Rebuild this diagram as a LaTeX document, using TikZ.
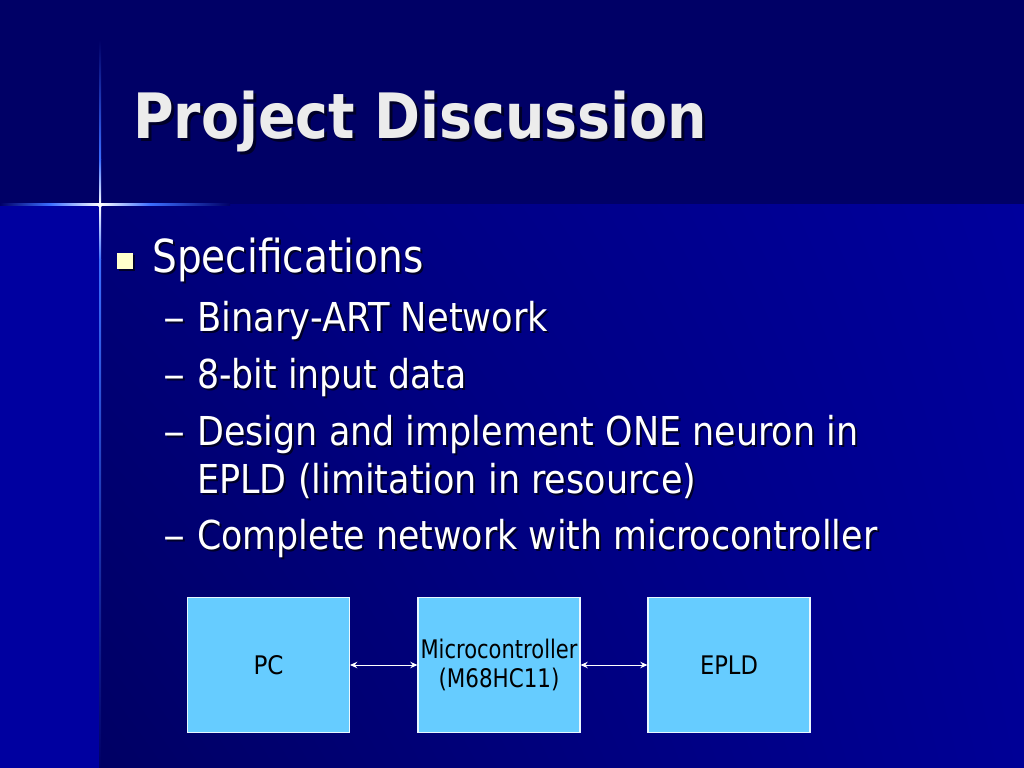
\documentclass[tikz,border=0pt]{standalone}
\usepackage{fontspec}
\setmainfont{DejaVu Sans}
\usetikzlibrary{arrows.meta,shadings}
\newlength\pxu \setlength\pxu{0.703125pt}
\newcommand\fw[2]{\resizebox{#1\pxu}{\height}{#2}}
\newcommand\shtx[3][2]{\makebox[0pt][l]{\hspace*{#1\pxu}\raisebox{-#1\pxu}{\color{shadowc}\fw{#2}{#3}}}\fw{#2}{#3}}
\definecolor{navy}{RGB}{0,0,102}
\definecolor{strip}{RGB}{0,0,160}
\definecolor{bgul}{RGB}{0,0,122}
\definecolor{bgur}{RGB}{0,0,156}
\definecolor{bgll}{RGB}{0,0,100}
\definecolor{bglr}{RGB}{0,0,150}
\definecolor{boxfill}{RGB}{102,204,255}
\definecolor{bulletfill}{RGB}{255,255,204}
\definecolor{shadowc}{RGB}{0,0,40}
\definecolor{titlec}{RGB}{236,236,236}
\definecolor{flare}{RGB}{60,110,255}
\tikzset{
  txt/.style={anchor=base west, inner sep=0pt, text=white, font=\fontsize{28}{34}\selectfont},
  big/.style={txt, font=\fontsize{32}{38}\selectfont},
  ttl/.style={anchor=base west, inner sep=0pt, text=titlec, font=\fontsize{44}{52}\selectfont\bfseries},
  blk/.style={draw=white!85!boxfill, line width=0.8pt, fill=boxfill, minimum width=162\pxu, minimum height=135\pxu,
    inner sep=0pt, text=black, font=\fontsize{18}{22}\selectfont, align=center},
  link/.style={draw=white, line width=0.7pt, {Stealth[length=5pt,width=4.5pt]}-{Stealth[length=5pt,width=4.5pt]}}
}
\begin{document}
\begin{tikzpicture}[x=0.703125pt,y=-0.703125pt]
\useasboundingbox (0,0) rectangle (1024,768);
% background
\fill[navy] (0,0) rectangle (1024,768);
\fill[strip] (0,205) rectangle (100,768);
\shade[upper left=bgul, upper right=bgur, lower left=bgll, lower right=bglr]
  (100,205) rectangle (1024,768);
% flare
\shade[top color=navy, bottom color=flare] (99,40) rectangle (101,160);
\shade[top color=flare, bottom color=white] (99,160) rectangle (101,205);
\shade[top color=white, bottom color=flare] (99,205) rectangle (101,260);
\shade[top color=flare, bottom color=navy] (99,260) rectangle (101,768);
\shade[left color=navy, right color=flare] (0,204) rectangle (50,206);
\shade[left color=flare, right color=white] (50,204) rectangle (100,206);
\shade[left color=white, right color=flare] (100,204) rectangle (150,206);
\shade[left color=flare, right color=navy] (150,204) rectangle (230,206);
\fill[white] (100,205) circle (2.2);
% title
\node[ttl] (title) at (133,139) {\shtx[3]{574}{Project Discussion}};
% bullet
\fill[shadowc] (119,255) rectangle (135,271);
\fill[bulletfill] (117,253) rectangle (133,269);
\node[big] (spec) at (152,273) {\shtx{271}{Specifications}};
% sub bullets
\foreach \yy/\ww/\tt/\nm in {331/351/{Binary-ART Network}/a, 388/269/{8-bit input data}/b,
    445/661/{Design and implement ONE neuron in}/c, 549/680/{Complete network with microcontroller}/e} {
  \node[txt] (d\nm) at (163,\yy) {\shtx{22}{–}};
  \node[txt] (t\nm) at (197,\yy) {\shtx{\ww}{\tt}};
}
\node[txt] (td) at (197,493) {\shtx{499}{EPLD (limitation in resource)}};
% diagram
\node[blk] (pc) at (268.5,665) {\fw{30}{PC}};
\node[blk] (mc) at (499,665) {\fw{157}{Microcontroller}\\[-1pt]\fw{121}{(M68HC11)}};
\node[blk] (epld) at (729,665) {\fw{58}{EPLD}};
\draw[link] (pc.east) -- (mc.west);
\draw[link] (mc.east) -- (epld.west);
\end{tikzpicture}
\end{document}
